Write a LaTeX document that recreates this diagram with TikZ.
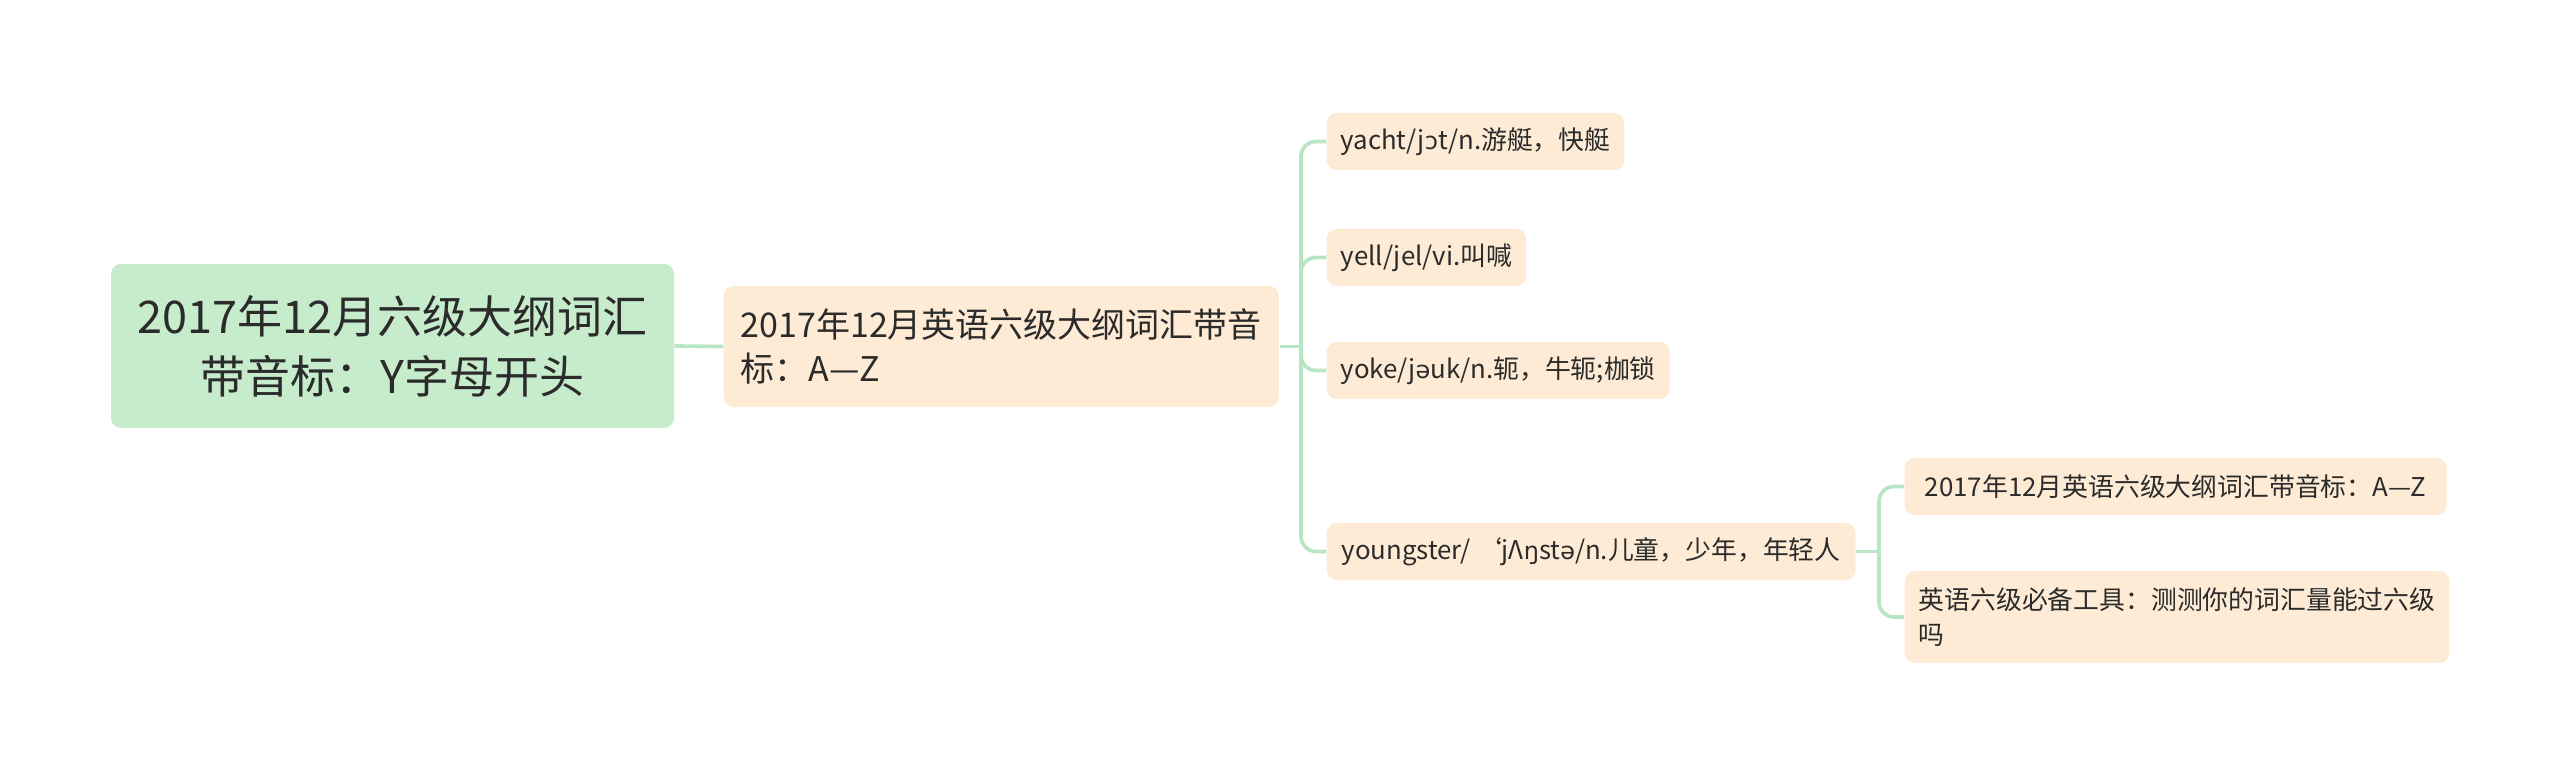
\documentclass[tikz,border=0pt]{standalone}
\usepackage{fontspec}
\setmainfont{Noto Sans CJK SC}
\newfontfamily\ipa{DejaVu Sans}
\newcommand\ip[1]{{\ipa\fontsize{7.2}{10.3}\selectfont #1}}
\definecolor{rootc}{HTML}{C6ECCC}
\definecolor{leafc}{HTML}{FDEBD5}
\definecolor{connc}{HTML}{B8E6C4}
\definecolor{txt}{HTML}{2B2B2B}
\begin{document}
\begin{tikzpicture}[x=0.3pt,y=-0.3pt,
 conn/.style={draw=connc, line width=1.1pt},
 rootbox/.style={fill=rootc, rounded corners=3pt, text=txt, font=\fontsize{13.5}{18}\selectfont, align=center, minimum width=168.9pt, minimum height=49.2pt, inner sep=0pt},
 lvlbox/.style={fill=leafc, rounded corners=3pt, text=txt, font=\fontsize{10.2}{13.2}\selectfont, align=left, inner xsep=5.1pt, inner ysep=0pt, minimum height=36.3pt, anchor=west},
 leafbox/.style={fill=leafc, rounded corners=3pt, text=txt, font=\fontsize{7.75}{10.3}\selectfont, align=left, inner xsep=4.2pt, inner ysep=0pt, minimum height=17.1pt, anchor=west}]
\useasboundingbox (0,0) rectangle (2560,776);
\node[rootbox] (root) at (392.5,346) {2017年12月六级大纲词汇\\带音标：Y字母开头};
\node[lvlbox, minimum width=165.6pt] (l1) at (723,346.5) {2017年12月英语六级大纲词汇带音\\标：A—Z};
\node[leafbox, minimum width=88.2pt] (a) at (1326,141.5) {yacht/j\ip{ɔ}t/n.游艇，快艇};
\node[leafbox, minimum width=58.8pt] (b) at (1326,257.5) {yell/jel/vi.叫喊};
\node[leafbox, minimum width=101.4pt] (c) at (1326,370.5) {yoke/j\ip{ə}uk/n.轭，牛轭;枷锁};
\node[leafbox, minimum width=158.7pt] (d) at (1326,551.5) {youngster/\hspace{1.5pt}‘jΛ\ip{ŋ}st\ip{ə}/n.儿童，少年，年轻人};
\node[leafbox, minimum width=162.6pt] (e) at (1904,486.5) {2017年12月英语六级大纲词汇带音标：A—Z};
\node[leafbox, minimum width=163.2pt, minimum height=27.6pt] (f) at (1904,617) {英语六级必备工具：测测你的词汇量能过六级\\吗};
\coordinate (t1) at (1301,346.5);
\coordinate (t2) at (1879,551.5);
\draw[conn] (root.east) -- (l1.west);
\draw[conn] (l1.east) -- (t1);
\foreach \n in {a,b,c,d} \draw[conn, rounded corners=4.5pt] (t1) |- (\n.west);
\draw[conn] (d.east) -- (t2);
\foreach \n in {e,f} \draw[conn, rounded corners=4.5pt] (t2) |- (\n.west);
\end{tikzpicture}
\end{document}
